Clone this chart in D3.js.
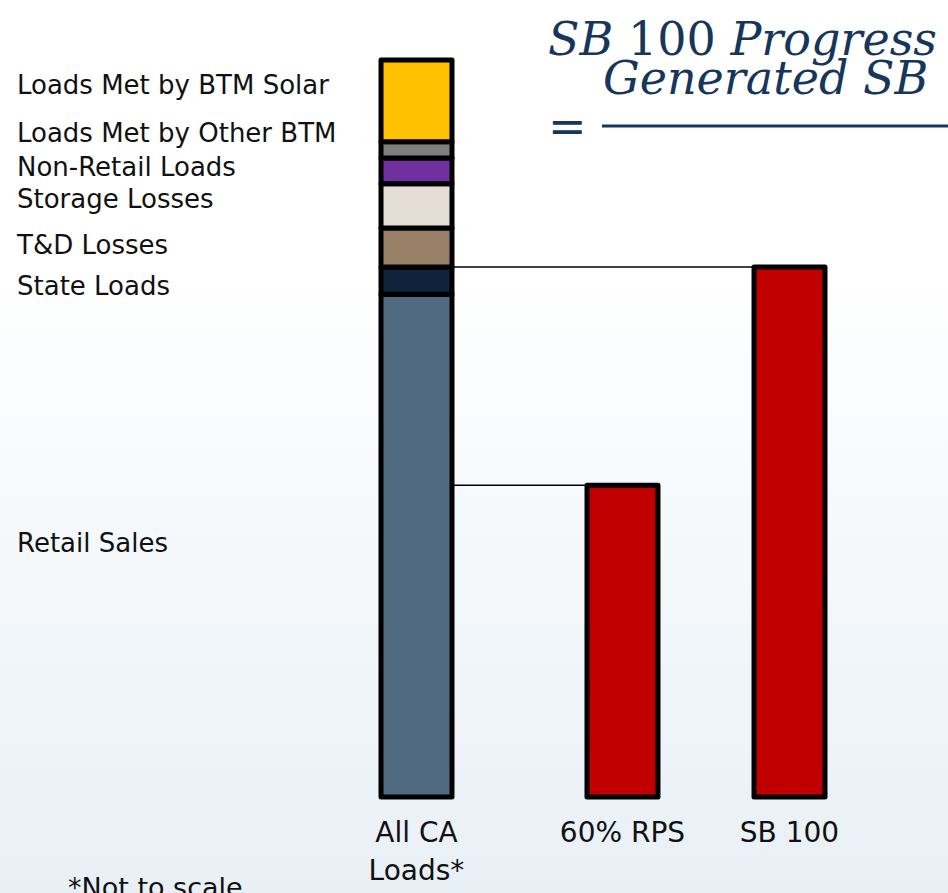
<!DOCTYPE html>
<html>
<head>
<meta charset="utf-8">
<script src="https://cdn.jsdelivr.net/npm/d3@7"></script>
<style>
  html, body { margin: 0; padding: 0; overflow: hidden; }
  svg { display: block; }
</style>
</head>
<body>
<svg></svg>
<script>
// --- data (not to scale, % of all CA loads) ---
var loadCategory = "All CA Loads*";
var loadSegments = ["Retail Sales", "State Loads", "T&D Losses", "Storage Losses",
                    "Non-Retail Loads", "Loads Met by Other BTM", "Loads Met by BTM Solar"];
var loadValues = [68.2, 3.7, 5.3, 6.0, 3.5, 2.2, 11.1];
var targetNames = ["60% RPS", "SB 100"];
var targetValues = [42.3, 71.9];

// styles
var segColors = ["#506a82", "#0f233d", "#978066", "#e4ddd6", "#7030a0", "#7f7f7f", "#ffc000"];
var labelNudge = [-3.5, 5, -3, -7, -4, -17, -16];
var navy = "#16365c";

var svg = d3.select("svg"),
    width = 948,
    height = 893;

svg.attr("width", width).attr("height", height);

var defs = svg.append("defs");
var grad = defs.append("linearGradient")
    .attr("id", "bg").attr("x1", 0).attr("y1", 0).attr("x2", 0).attr("y2", 1);
grad.append("stop").attr("offset", "0.3").attr("stop-color", "#ffffff");
grad.append("stop").attr("offset", "1").attr("stop-color", "#e8f0f6");

svg.append("rect").attr("width", width).attr("height", height).attr("fill", "url(#bg)");

var y = d3.scaleLinear().domain([0, 100]).range([797, 60]);

var xLoad = d3.scaleBand().domain([loadCategory]).range([381, 452]);
var xTarget = d3.scaleBand().domain(targetNames).range([587, 825]).paddingInner(0.575);

// stacked load bar
var row = { cat: loadCategory };
loadSegments.forEach(function(k, i) { row[k] = loadValues[i]; });
var series = d3.stack().keys(loadSegments)([row]);

// connector lines (drawn under bars)
svg.append("g")
  .selectAll("line")
  .data(targetNames)
  .enter().append("line")
    .attr("x1", xLoad(loadCategory) + xLoad.bandwidth())
    .attr("x2", function(d) { return xTarget(d); })
    .attr("y1", function(d, i) { return y(targetValues[i]); })
    .attr("y2", function(d, i) { return y(targetValues[i]); })
    .attr("stroke", "#000")
    .attr("stroke-width", 1.5);

svg.append("g")
  .selectAll("rect")
  .data(series)
  .enter().append("rect")
    .attr("x", xLoad(loadCategory))
    .attr("width", xLoad.bandwidth())
    .attr("y", function(s) { return y(s[0][1]); })
    .attr("height", function(s) { return y(s[0][0]) - y(s[0][1]); })
    .attr("fill", function(s, i) { return segColors[i]; })
    .attr("stroke", "#000")
    .attr("stroke-width", 5)
    .attr("stroke-linejoin", "round");

svg.append("g")
  .selectAll("rect")
  .data(targetNames)
  .enter().append("rect")
    .attr("x", function(d) { return xTarget(d); })
    .attr("width", xTarget.bandwidth())
    .attr("y", function(d, i) { return y(targetValues[i]); })
    .attr("height", function(d, i) { return y(0) - y(targetValues[i]); })
    .attr("fill", "#c00000")
    .attr("stroke", "#000")
    .attr("stroke-width", 5)
    .attr("stroke-linejoin", "round");

// segment labels on the left
svg.append("g")
  .selectAll("text")
  .data(series)
  .enter().append("text")
    .attr("x", 17)
    .attr("y", function(s, i) { return (y(s[0][0]) + y(s[0][1])) / 2 + labelNudge[i] + 9.5; })
    .attr("font-family", "DejaVu Sans, sans-serif")
    .attr("font-size", 26)
    .attr("fill", "#111")
    .text(function(s) { return s.key; });

// category labels
var catFont = "DejaVu Sans, sans-serif";
var allLab = svg.append("text")
    .attr("x", xLoad(loadCategory) + xLoad.bandwidth() / 2)
    .attr("y", y(0) + 45)
    .attr("text-anchor", "middle")
    .attr("font-family", catFont)
    .attr("font-size", 28)
    .attr("fill", "#111");
allLab.append("tspan").text("All CA");
allLab.append("tspan")
    .attr("x", xLoad(loadCategory) + xLoad.bandwidth() / 2)
    .attr("dy", 38)
    .text("Loads*");

svg.append("g")
  .selectAll("text")
  .data(targetNames)
  .enter().append("text")
    .attr("x", function(d) { return xTarget(d) + xTarget.bandwidth() / 2; })
    .attr("y", y(0) + 45)
    .attr("text-anchor", "middle")
    .attr("font-family", catFont)
    .attr("font-size", 28)
    .attr("fill", "#111")
    .text(function(d) { return d; });

svg.append("text")
    .attr("x", 68)
    .attr("y", 897)
    .attr("font-family", catFont)
    .attr("font-size", 27)
    .attr("fill", "#111")
    .text("*Not to scale");

// formula title (top right, cut by the edge)
var t1 = svg.append("text")
    .attr("x", 548).attr("y", 55)
    .attr("font-family", "DejaVu Serif, serif")
    .attr("font-size", 46)
    .attr("fill", navy);
t1.append("tspan").attr("font-style", "italic").text("SB ");
t1.append("tspan").text("100 ");
t1.append("tspan").attr("font-style", "italic").text("Progress");

var t2 = svg.append("text")
    .attr("x", 603).attr("y", 94)
    .attr("font-family", "DejaVu Serif, serif")
    .attr("font-size", 46)
    .attr("fill", navy);
t2.append("tspan").attr("font-style", "italic").text("Generated SB ");
t2.append("tspan").text("100");

svg.append("text")
    .attr("x", 548).attr("y", 142)
    .attr("font-family", "DejaVu Serif, serif")
    .attr("font-size", 46)
    .attr("fill", navy)
    .text("=");

svg.append("line")
    .attr("x1", 602).attr("x2", width)
    .attr("y1", 126).attr("y2", 126)
    .attr("stroke", navy)
    .attr("stroke-width", 3);
</script>
</body>
</html>
